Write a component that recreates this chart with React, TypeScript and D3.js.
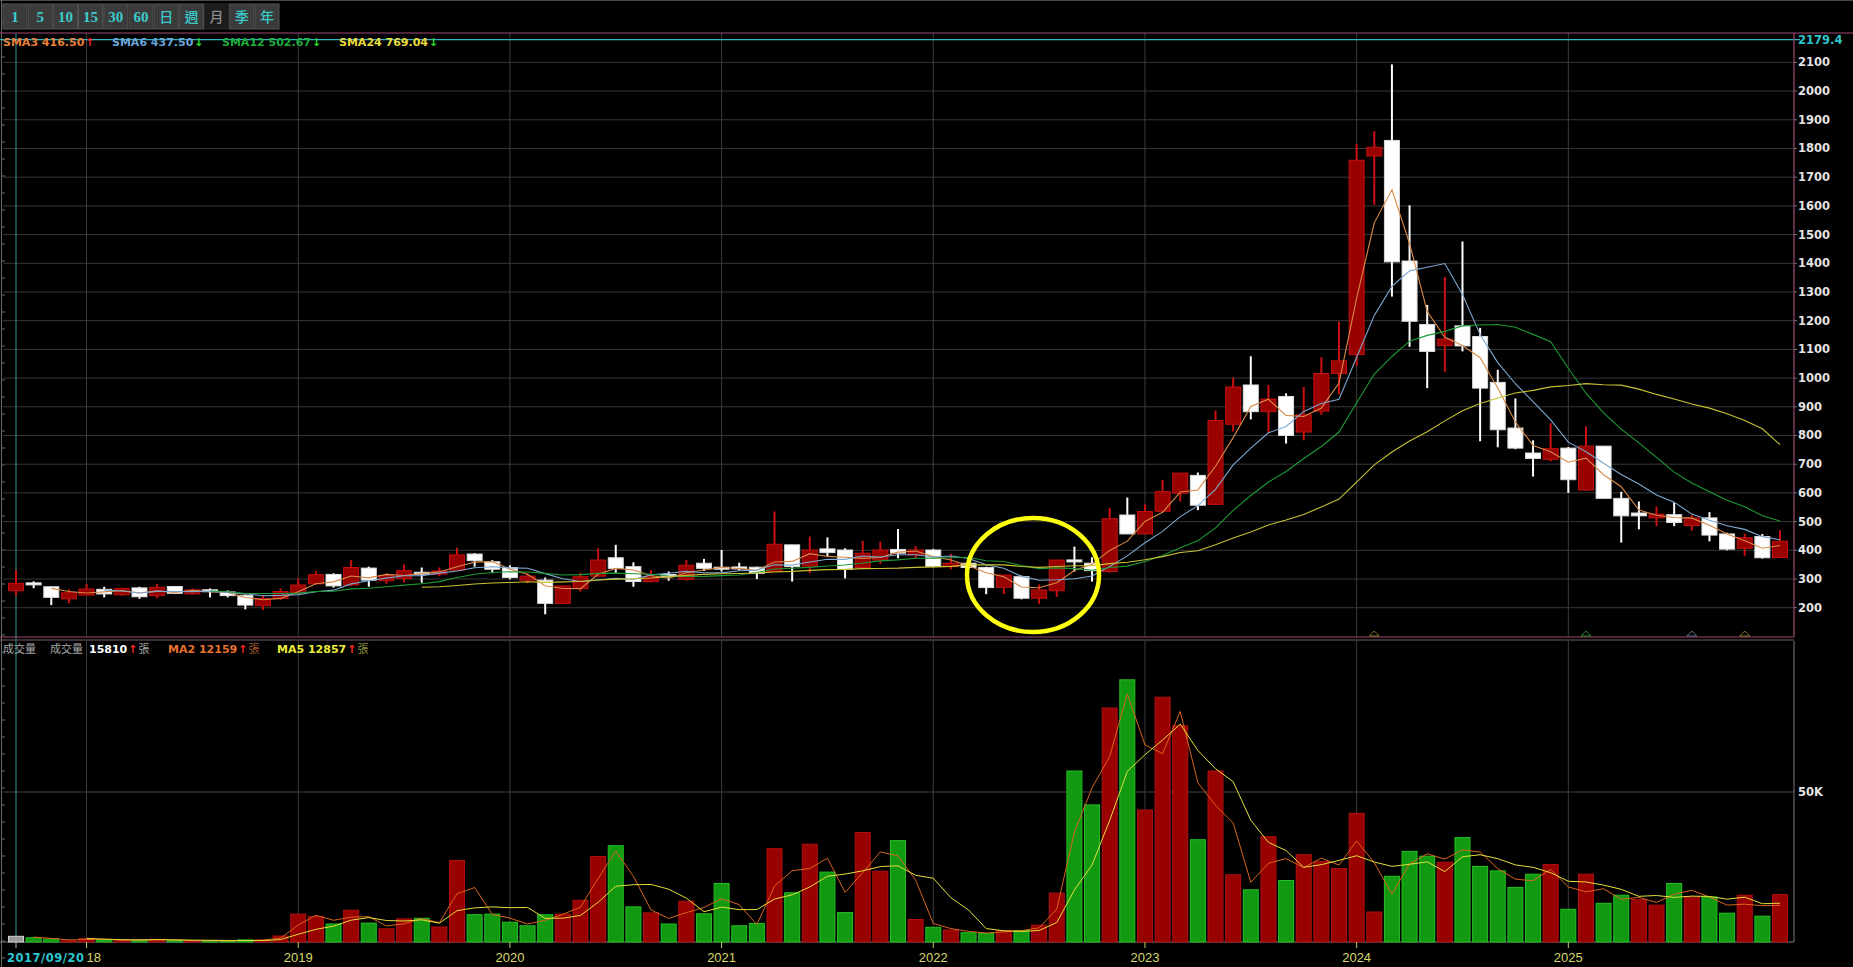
import React from 'react';
import * as d3 from 'd3';

const W = 1853;
const H = 967;

// Monthly candles from 2017/09 to 2026/01
const startYear = 2017;
const startMonth = 9;
const opens = [259,285,273,231,244,264,245,269,242,274,248,262,255,243,207,232,252,283,316,279,338,294,302,323,317,331,387,360,340,296,296,215,267,310,374,343,291,315,299,355,340,340,341,326,419,345,405,401,340,366,403,384,401,343,355,340,271,308,233,259,366,355,326,523,457,536,599,661,560,839,976,883,936,812,885,1016,1082,1774,1828,1408,1187,1113,1182,1145,985,826,739,717,756,610,763,581,530,513,524,486,513,457,407,448,375];
const highs = [331,292,273,264,283,273,270,273,283,276,267,267,260,246,244,267,302,328,320,366,343,320,351,340,340,409,390,366,348,320,305,276,322,407,419,358,331,326,366,370,401,357,343,535,419,448,445,407,433,430,474,415,405,387,357,343,314,312,281,366,413,376,547,584,560,645,669,671,887,1002,1076,976,947,969,1072,1196,1816,1860,2093,1602,1255,1352,1476,1175,1029,929,783,843,760,832,763,604,570,553,566,524,533,461,457,457,470];
const lows = [242,268,209,215,244,236,242,231,233,248,244,236,236,194,192,227,248,283,270,276,273,283,287,287,310,329,343,320,299,285,177,213,256,308,320,273,288,294,294,328,326,329,300,326,291,320,378,302,337,352,372,372,341,334,337,247,247,229,213,238,326,291,322,457,457,536,570,540,557,814,856,810,772,783,872,943,1042,1604,1284,1109,965,1022,1093,780,759,752,657,710,600,607,581,427,473,484,484,468,431,400,381,371,375];
const closes = [285,281,236,252,265,248,267,238,271,250,262,256,242,209,232,256,279,315,276,340,296,312,329,317,328,384,364,334,305,310,215,276,308,366,337,291,308,309,348,337,335,337,320,421,343,401,392,334,390,401,390,401,343,355,340,270,314,233,262,366,360,329,510,457,535,605,669,557,852,969,883,927,800,872,1016,1060,1759,1804,1405,1198,1093,1136,1112,965,820,756,720,754,646,763,581,520,520,526,497,513,453,404,444,374,431.5];
const volumes = [1900,1400,1000,400,1200,700,600,600,900,600,400,400,300,700,600,2000,9300,8500,6000,10600,6300,4400,7700,7900,5000,27200,9100,9300,6600,5400,9100,9300,13900,28500,32100,11700,9700,6000,13600,9400,19500,5400,6200,31100,16400,32600,23300,9800,36500,23600,33800,7500,4900,4000,3100,2900,3800,3800,5600,16300,57000,45700,78000,87400,44000,81600,72100,34100,57000,22400,17400,35100,20500,29100,26800,24500,42900,10000,21900,30200,28600,26600,34800,25200,23700,18200,22600,25800,10900,22600,12900,15600,14100,12300,19500,15000,15000,9600,15600,8600,15810];
const volColorOverride: Record<number, string> = { 0: 'gray', 29: 'down', 92: 'up' };

const yearLabels = ['2018', '2019', '2020', '2021', '2022', '2023', '2024', '2025'];
const priceTicks = d3.range(200, 2101, 100);
const priceTop = 2179.4;
const volTicks = [50000];
const toolbarLabels = ['1', '5', '10', '15', '30', '60', '日', '週', '月', '季', '年'];
const selectedTool = '月';
const markerIdx = [77, 89, 95, 98];
const markerColors = ['#8a7a30', '#2a8a2a', '#60708a', '#8a7a30'];

const smaPeriods = [3, 6, 12, 24];
const smaColors = ['#d88a48', '#7fa8d0', '#1c9a34', '#c8c234'];
const smaLegend = ['SMA3 416.50', 'SMA6 437.50', 'SMA12 502.67', 'SMA24 769.04'];
const smaLegendColors = ['#e8803a', '#6aa6dc', '#1fae3c', '#ecdc3c'];
const smaLegendUp = [true, false, false, false];
const smaLegendX = [3, 112, 222, 339];

const volMaPeriods = [2, 5];
const volMaColors = ['#d8641e', '#e4e03a'];

function sma(arr: number[], n: number): (number | null)[] {
  return arr.map((_, i) => (i < n - 1 ? null : (d3.mean(arr.slice(i - n + 1, i + 1)) as number)));
}

const x = d3.scaleLinear().domain([0, 100]).range([16, 1780]);
const yP = d3.scaleLinear().domain([100, priceTop]).range([636.4, 39.6]);
const yV = d3.scaleLinear().domain([0, 50000]).range([942, 792]);

const PANEL_R = 1794;
const PRICE_TOP = 33;
const PRICE_BOT = 637;
const VOL_TOP = 641;
const VOL_BOT = 942;
const BODY_W = 15;

const RED_FILL = '#990000';
const RED_EDGE = '#c41010';
const WHITE_FILL = '#ffffff';
const GREEN_FILL = '#129912';
const GREEN_EDGE = '#24c024';

const FONT = '"DejaVu Sans", Verdana, sans-serif';
const CJK = '"Noto Sans CJK TC", "Noto Sans CJK SC", sans-serif';

function monthIndexOfYear(label: string) {
  const y = +label;
  return (y - startYear) * 12 + (1 - startMonth);
}

export default function App() {
  const smaSeries = smaPeriods.map((p) => sma(closes, p));
  const volMaSeries = volMaPeriods.map((p) => sma(volumes, p));

  const lineP = d3
    .line<number | null>()
    .defined((d) => d != null)
    .x((_, i) => x(i))
    .y((d) => yP(d as number));
  const lineV = d3
    .line<number | null>()
    .defined((d) => d != null)
    .x((_, i) => x(i))
    .y((d) => yV(d as number));

  const yearX = yearLabels.map((l) => x(monthIndexOfYear(l)));
  const leftTicks = d3.range(6, H, 17);

  return (
    <div style={{ width: W, height: H, background: '#000', overflow: 'hidden' }}>
      <style>{`html,body{margin:0;padding:0;background:#000;overflow:hidden}`}</style>
      <svg width={W} height={H} style={{ display: 'block', background: '#000' }}>
        <defs>
          <clipPath id="clip2018">
            <rect x={86} y={945} width={40} height={22} />
          </clipPath>
        </defs>
        <rect x={0} y={0} width={W} height={H} fill="#000" />
        {/* top line */}
        <line x1={0} x2={W} y1={0.5} y2={0.5} stroke="#4a4a4a" />
        {/* left axis line with ticks */}
        <line x1={1.5} x2={1.5} y1={0} y2={H} stroke="#6a6a6a" />
        {leftTicks.map((t) => (
          <line key={'lt' + t} x1={1.5} x2={5} y1={t} y2={t} stroke="#6a6a6a" />
        ))}

        {/* toolbar */}
        {toolbarLabels.map((l, k) => {
          const bx = 3 + k * 25.2;
          const sel = l === selectedTool;
          const cjk = /[^\x00-\x7f]/.test(l);
          return (
            <g key={'tb' + k}>
              <rect x={bx} y={4} width={24} height={25} fill={sel ? '#1c1c1c' : '#3b3b3b'} stroke={sel ? '#2a2a2a' : '#555'} strokeWidth={1} />
              <text
                x={bx + 12}
                y={22}
                textAnchor="middle"
                fontFamily={cjk ? CJK : '"Liberation Serif", "DejaVu Serif", serif'}
                fontWeight={cjk ? 500 : 700}
                fontSize={cjk ? 14 : 15}
                fill={sel ? '#8c8c8c' : '#3ccaca'}
              >
                {l}
              </text>
            </g>
          );
        })}

        {/* price panel grid */}
        {priceTicks.map((t) => (
          <line key={'pg' + t} x1={3} x2={PANEL_R} y1={yP(t)} y2={yP(t)} stroke="#383838" strokeWidth={1} />
        ))}
        {yearX.map((xx, k) => (
          <line key={'pv' + k} x1={xx} x2={xx} y1={PRICE_TOP} y2={PRICE_BOT} stroke="#3c3c3c" />
        ))}
        {/* volume panel grid */}
        {volTicks.map((t) => (
          <line key={'vg' + t} x1={3} x2={PANEL_R} y1={yV(t)} y2={yV(t)} stroke="#444" />
        ))}
        {yearX.map((xx, k) => (
          <line key={'vv' + k} x1={xx} x2={xx} y1={VOL_TOP} y2={VOL_BOT} stroke="#3c3c3c" />
        ))}
        {/* cursor line at first candle */}
        <line x1={x(0)} x2={x(0)} y1={PRICE_TOP} y2={VOL_BOT} stroke="#2a7e7e" strokeWidth={1.2} />

        {/* frames */}
        <line x1={0} x2={W} y1={PRICE_TOP} y2={PRICE_TOP} stroke="#a04a72" strokeWidth={1.2} />
        <line x1={0} x2={1800} y1={yP(priceTop)} y2={yP(priceTop)} stroke="#2fb8c0" strokeWidth={1.2} />
        <line x1={PANEL_R} x2={PANEL_R} y1={PRICE_TOP} y2={PRICE_BOT} stroke="#a04a72" strokeWidth={1.2} />
        <line x1={0} x2={PANEL_R} y1={PRICE_BOT} y2={PRICE_BOT} stroke="#a04a72" strokeWidth={1.2} />
        <line x1={0} x2={PANEL_R} y1={VOL_TOP - 1} y2={VOL_TOP - 1} stroke="#7a5a6a" strokeWidth={1} />
        <line x1={PANEL_R} x2={PANEL_R} y1={VOL_TOP} y2={VOL_BOT} stroke="#7a7a7a" />
        <line x1={0} x2={PANEL_R} y1={VOL_BOT} y2={VOL_BOT} stroke="#7a7a7a" />

        {/* price axis labels */}
        {priceTicks.map((t) => (
          <g key={'pl' + t}>
            <line x1={PANEL_R} x2={PANEL_R + 3} y1={yP(t)} y2={yP(t)} stroke="#777" />
            <text x={1798} y={yP(t) + 4} fontFamily={FONT} fontWeight={700} fontSize={11.5} fill="#e4e4e4">
              {t}
            </text>
          </g>
        ))}
        <text x={1798} y={yP(priceTop) + 4} fontFamily={FONT} fontWeight={700} fontSize={11.5} fill="#2fc4cc">
          {priceTop.toFixed(1)}
        </text>
        {volTicks.map((t) => (
          <text key={'vl' + t} x={1798} y={yV(t) + 4} fontFamily={FONT} fontWeight={700} fontSize={11.5} fill="#e4e4e4">
            {t / 1000 + 'K'}
          </text>
        ))}

        {/* candles */}
        {closes.map((c, i) => {
          const o = opens[i];
          const up = c >= o;
          const xc = x(i);
          const top = yP(Math.max(o, c));
          const bot = yP(Math.min(o, c));
          const h = Math.max(2, bot - top);
          return (
            <g key={'c' + i}>
              <line x1={xc} x2={xc} y1={yP(highs[i])} y2={yP(lows[i])} stroke={up ? '#cc1010' : '#ffffff'} strokeWidth={2} />
              <rect
                x={xc - BODY_W / 2}
                y={h === 2 ? (top + bot) / 2 - 1 : top}
                width={BODY_W}
                height={h}
                fill={up ? RED_FILL : WHITE_FILL}
                stroke={up ? RED_EDGE : '#dcdcdc'}
                strokeWidth={1}
              />
            </g>
          );
        })}

        {/* SMA lines */}
        {smaSeries.map((s, k) => (
          <path key={'sma' + k} d={lineP(s) || ''} fill="none" stroke={smaColors[k]} strokeWidth={1.1} />
        ))}

        {/* markers at bottom of price panel */}
        {markerIdx.map((mi, k) => {
          const xc = x(mi);
          return (
            <path
              key={'mk' + k}
              d={`M${xc - 5},${PRICE_BOT - 1} L${xc},${PRICE_BOT - 6} L${xc + 5},${PRICE_BOT - 1} Z`}
              fill="none"
              stroke={markerColors[k]}
              strokeWidth={1}
            />
          );
        })}

        {/* highlight circle */}
        <ellipse cx={1033} cy={575} rx={66} ry={57} fill="none" stroke="#ffff10" strokeWidth={4.5} />

        {/* volume bars */}
        {volumes.map((v, i) => {
          const ov = volColorOverride[i];
          const dir = ov ? ov : closes[i] >= opens[i] ? 'up' : 'down';
          const fill = dir === 'gray' ? '#9a9a9a' : dir === 'up' ? RED_FILL : GREEN_FILL;
          const edge = dir === 'gray' ? '#d0d0d0' : dir === 'up' ? '#b01010' : GREEN_EDGE;
          const xc = x(i);
          return (
            <rect
              key={'v' + i}
              x={xc - BODY_W / 2}
              y={yV(v)}
              width={BODY_W}
              height={Math.max(1, VOL_BOT - yV(v))}
              fill={fill}
              stroke={edge}
              strokeWidth={1}
            />
          );
        })}
        {volMaSeries.map((s, k) => (
          <path key={'vma' + k} d={lineV(s) || ''} fill="none" stroke={volMaColors[k]} strokeWidth={1} />
        ))}

        {/* price legend */}
        {smaLegend.map((t, k) => (
          <g key={'lg' + k}>
            <text x={smaLegendX[k]} y={45.5} fontFamily={FONT} fontWeight={700} fontSize={11} fill={smaLegendColors[k]}>
              {t}
              <tspan fill={smaLegendUp[k] ? '#ff2a2a' : '#22e022'} dx={1}>
                {smaLegendUp[k] ? '↑' : '↓'}
              </tspan>
            </text>
          </g>
        ))}

        {/* volume legend */}
        <text x={3} y={652.5} fontFamily={CJK} fontSize={11} fill="#a8a8a8">成交量</text>
        <text x={50} y={652.5} fontFamily={CJK} fontSize={11} fill="#a8a8a8">成交量</text>
        <text x={89} y={652.5} fontFamily={FONT} fontWeight={700} fontSize={11} fill="#ffffff">
          15810
          <tspan fill="#ff2a2a" dx={1}>↑</tspan>
          <tspan fontFamily={CJK} fontWeight={400} fill="#a8a8a8" dx={1}>張</tspan>
        </text>
        <text x={168} y={652.5} fontFamily={FONT} fontWeight={700} fontSize={11} fill="#e8702e">
          MA2 12159
          <tspan fill="#ff2a2a" dx={1}>↑</tspan>
          <tspan fontFamily={CJK} fontWeight={400} fill="#a0582a" dx={1}>張</tspan>
        </text>
        <text x={277} y={652.5} fontFamily={FONT} fontWeight={700} fontSize={11} fill="#ecec3a">
          MA5 12857
          <tspan fill="#ff2a2a" dx={1}>↑</tspan>
          <tspan fontFamily={CJK} fontWeight={400} fill="#8e8e3a" dx={1}>張</tspan>
        </text>

        {/* date axis */}
        {yearX.map((xx, k) => (
          <g key={'ya' + k}>
            <line x1={xx} x2={xx} y1={VOL_BOT} y2={VOL_BOT + 6} stroke="#c8c860" />
            <text
              x={xx}
              y={962}
              textAnchor="middle"
              fontFamily='"Liberation Sans", Arial, sans-serif'
              fontSize={13}
              fill="#d8d86a"
              clipPath={k === 0 ? 'url(#clip2018)' : undefined}
            >
              {yearLabels[k]}
            </text>
          </g>
        ))}
        <line x1={x(0)} x2={x(0)} y1={VOL_BOT} y2={VOL_BOT + 6} stroke="#bbbbbb" />
        <text x={7} y={962} fontFamily={FONT} fontWeight={700} fontSize={11.5} fill="#2fc8d0" textLength={77} lengthAdjust="spacing">
          {`${startYear}/${String(startMonth).padStart(2, '0')}/20`}
        </text>
      </svg>
    </div>
  );
}
